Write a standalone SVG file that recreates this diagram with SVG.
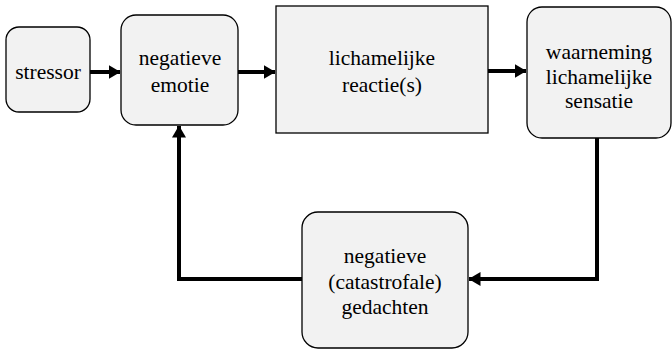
<svg xmlns="http://www.w3.org/2000/svg" width="672" height="350" viewBox="0 0 672 350">
<style>
.box{fill:#f2f2f2;stroke:#000;stroke-width:1.3}
.c{fill:none;stroke:#000;stroke-width:4}
</style>
<defs>
<marker id="ah" viewBox="0 0 12 14" refX="11.5" refY="7" markerWidth="12" markerHeight="14" markerUnits="userSpaceOnUse" orient="auto">
<path d="M0,0 L12,7 L0,14 Z" fill="#000"/>
</marker>
</defs>
<rect width="672" height="350" fill="#fff"/>
<g id="connectors">
<path class="c" d="M90,72 H120" marker-end="url(#ah)"/>
<path class="c" d="M238,72 H275" marker-end="url(#ah)"/>
<path class="c" d="M488,71 H526" marker-end="url(#ah)"/>
<path class="c" d="M597,138 V279 H469" marker-end="url(#ah)"/>
<path class="c" d="M302,279 H179 V126" marker-end="url(#ah)"/>
</g>
<g id="stressor">
<rect class="box" x="6" y="27" width="84" height="85" rx="13"/>
<text x="48" y="79" font-family="Liberation Serif" font-size="21.5" text-anchor="middle">stressor</text>
</g>
<g id="negatieve-emotie">
<rect class="box" x="121" y="15" width="117" height="110" rx="15"/>
<text x="180" y="65" font-family="Liberation Serif" font-size="21.5" text-anchor="middle">negatieve</text>
<text x="180" y="92" font-family="Liberation Serif" font-size="21.5" text-anchor="middle">emotie</text>
</g>
<g id="lichamelijke-reacties">
<rect class="box" x="276" y="6" width="212" height="127"/>
<text x="382" y="65" font-family="Liberation Serif" font-size="21.5" text-anchor="middle">lichamelijke</text>
<text x="382" y="92" font-family="Liberation Serif" font-size="21.5" text-anchor="middle">reactie(s)</text>
</g>
<g id="waarneming">
<rect class="box" x="527" y="7" width="144" height="131" rx="15"/>
<text x="599" y="59" font-family="Liberation Serif" font-size="21.5" text-anchor="middle">waarneming</text>
<text x="599" y="84" font-family="Liberation Serif" font-size="21.5" text-anchor="middle">lichamelijke</text>
<text x="599" y="108" font-family="Liberation Serif" font-size="21.5" text-anchor="middle">sensatie</text>
</g>
<g id="gedachten">
<rect class="box" x="302" y="212" width="166" height="136" rx="16"/>
<text x="385" y="263" font-family="Liberation Serif" font-size="21.5" text-anchor="middle">negatieve</text>
<text x="385" y="289" font-family="Liberation Serif" font-size="21.5" text-anchor="middle">(catastrofale)</text>
<text x="385" y="314" font-family="Liberation Serif" font-size="21.5" text-anchor="middle">gedachten</text>
</g>
</svg>
